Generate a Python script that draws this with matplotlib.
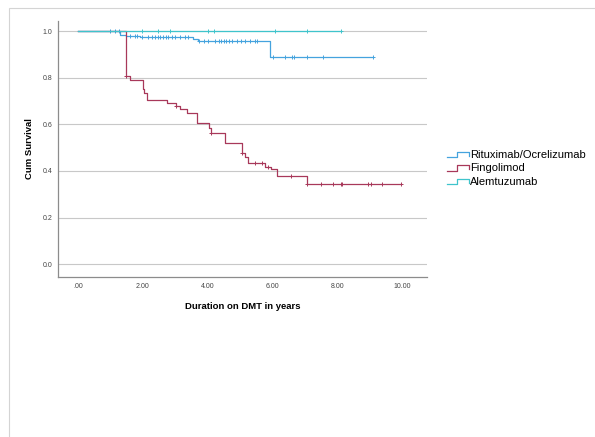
import matplotlib.pyplot as plt
import numpy as np
from matplotlib.legend_handler import HandlerBase
from matplotlib.lines import Line2D
from matplotlib.patches import Rectangle

plt.rcParams['font.family'] = ['Liberation Sans', 'DejaVu Sans']

# Kaplan-Meier step data: event times and survival after each event
ritux_times = [1.30, 1.48, 1.91, 3.56, 3.71, 5.93]
ritux_surv = [0.985, 0.980, 0.973, 0.965, 0.958, 0.890]
ritux_end = 9.11
ritux_censor = [0.99, 1.14, 1.27, 1.60, 1.76, 1.83, 1.96, 2.17, 2.27, 2.38, 2.46,
                2.53, 2.63, 2.70, 2.79, 2.89, 2.99, 3.15, 3.30, 3.40, 3.73, 3.88,
                4.02, 4.24, 4.34, 4.42, 4.49, 4.56, 4.65, 4.75, 4.90, 5.03, 5.16,
                5.31, 5.46, 5.51, 6.03, 6.39, 6.60, 6.65, 7.06, 7.57, 9.11]

fingo_times = [1.48, 1.60, 2.00, 2.05, 2.12, 2.74, 3.03, 3.14, 3.36, 3.67, 4.04,
               4.09, 4.54, 5.05, 5.15, 5.23, 5.77, 5.95, 6.15, 7.08]
fingo_surv = [0.807, 0.790, 0.750, 0.733, 0.706, 0.692, 0.678, 0.664, 0.648, 0.604,
              0.582, 0.564, 0.521, 0.478, 0.460, 0.435, 0.418, 0.408, 0.378, 0.346]
fingo_end = 9.96
fingo_censor = [1.48, 3.03, 4.09, 5.05, 5.46, 5.67, 5.87, 6.57, 7.08, 7.50, 7.86,
                8.11, 8.14, 8.96, 9.03, 9.37, 9.96]

alem_times = []
alem_surv = []
alem_end = 8.11
alem_censor = [1.96, 2.48, 2.84, 4.02, 4.18, 6.08, 7.08, 8.11]

labels = ["Rituximab/Ocrelizumab", "Fingolimod", "Alemtuzumab"]
colors = ["#45A3DE", "#A8385A", "#3FC4CC"]

xticks = [0, 2, 4, 6, 8, 10]
xticklabels = [".00", "2.00", "4.00", "6.00", "8.00", "10.00"]
yticks = [0.0, 0.2, 0.4, 0.6, 0.8, 1.0]


class StepHandler(HandlerBase):
    def create_artists(self, legend, orig_handle, xdescent, ydescent,
                       width, height, fontsize, trans):
        x0, x1 = -xdescent, -xdescent + width
        y0, y1 = -ydescent + 0.1 * height, -ydescent + 0.75 * height
        xm = x0 + 0.45 * width
        line = Line2D([x0, xm, xm, x1, x1], [y0, y0, y1, y1, y0 + 0.15 * height],
                      color=orig_handle.get_color(), lw=0.9, transform=trans)
        return [line]


def km_curve(ax, times, surv, end, censor, color, label):
    """
    Draws a step survival curve with censor ticks
    """
    t = np.concatenate([[0.0], times, [end]])
    s = np.concatenate([[1.0], surv, [surv[-1] if len(surv) else 1.0]])
    h, = ax.step(t, s, where='post', color=color, lw=0.9, label=label)
    idx = np.searchsorted(t[:-1], censor, side='right') - 1
    ax.plot(censor, s[idx], linestyle='none', marker='+', ms=3.5, mew=0.7, color=color)
    return h


fig = plt.figure(figsize=(5.95, 4.37), dpi=100)
fig.patches.append(Rectangle((9 / 595, -0.1), 1.2, 1 - 8 / 437 + 0.1, transform=fig.transFigure,
                             fill=False, edgecolor="#D4D4D4", lw=0.8))
ax = fig.add_axes([58 / 595, 1 - 277 / 437, (427 - 58) / 595, (277 - 21) / 437])

handles = []
handles.append(km_curve(ax, ritux_times, ritux_surv, ritux_end, ritux_censor, colors[0], labels[0]))
handles.append(km_curve(ax, fingo_times, fingo_surv, fingo_end, fingo_censor, colors[1], labels[1]))
handles.append(km_curve(ax, alem_times, alem_surv, alem_end, alem_censor, colors[2], labels[2]))

ax.set_xlim(-0.62, 10.77)
ax.set_ylim(-0.055, 1.043)
ax.set_xticks(xticks)
ax.set_xticklabels(xticklabels)
ax.set_yticks(yticks)
ax.set_yticklabels(["%.1f" % v for v in yticks])
ax.tick_params(length=0, labelsize=5, colors="#444444", pad=4)
ax.yaxis.grid(True, color="#C8C8C8", lw=0.8)
ax.set_axisbelow(True)
for side in ["top", "right"]:
    ax.spines[side].set_visible(False)
for side in ["left", "bottom"]:
    ax.spines[side].set_color("#8C8C8C")
    ax.spines[side].set_linewidth(0.9)

ax.set_xlabel("Duration on DMT in years", fontsize=6.8, fontweight='bold', labelpad=9)
ax.set_ylabel("Cum Survival", fontsize=6.8, fontweight='bold', labelpad=6)

fig.legend(handles, labels, loc='upper left', bbox_to_anchor=(447 / 595, 1 - 150 / 437),
           frameon=False, fontsize=8, handlelength=2.0, handletextpad=0.1,
           labelspacing=0.3, borderpad=0, borderaxespad=0,
           handler_map={h: StepHandler() for h in handles})

fig.savefig("out.png", dpi=100)
